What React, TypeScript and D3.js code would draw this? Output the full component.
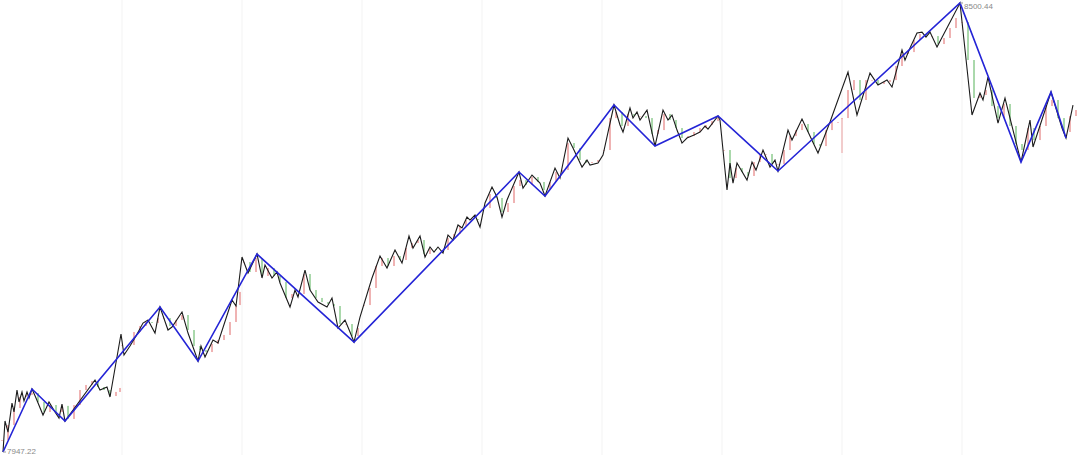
import React from "react";
import * as d3 from "d3";

// ---- data (time index in minutes, prices) ----
const dayBreaks = [122, 242, 362, 482, 602, 722, 842, 962];

const candleT = [
  2, 8, 14, 20, 26, 32, 38, 44, 50, 56, 62, 68, 74, 80, 86, 92, 98, 104, 110, 116, 120,
  122, 128, 134, 140, 146, 152, 158, 164, 170, 176, 182, 188, 194, 200, 206, 212, 218, 224, 230, 236, 240,
  244, 250, 256, 262, 268, 274, 280, 286, 292, 298, 304, 310, 316, 322, 328, 334, 340, 346, 352, 358,
  364, 370, 376, 382, 388, 394, 400, 406, 412, 418, 424, 430, 436, 442, 448, 454, 460, 466, 472, 478,
  484, 490, 496, 502, 508, 514, 520, 526, 532, 538, 544, 550, 556, 562, 568, 574, 580, 586, 592, 598,
  604, 610, 616, 622, 628, 634, 640, 646, 652, 658, 664, 670, 676, 682, 688, 694, 700, 706, 712, 718,
  724, 730, 736, 742, 748, 754, 760, 766, 772, 778, 784, 790, 796, 802, 808, 814, 820, 826, 832, 838,
  842, 848, 854, 860, 866, 872, 878, 884, 890, 896, 902, 908, 914, 920, 926, 932, 938, 944, 950, 956,
  962, 968, 974, 980, 986, 992, 998, 1004, 1010, 1016, 1022, 1028, 1034, 1040, 1046, 1052, 1058, 1064, 1070, 1076,
];
const candleClose = [
  7962.0, 7980.5, 8001.4, 8015.0, 8017.5, 8019.9, 8008.8, 7996.5, 8005.1, 7996.5, 8004.0, 7988.0, 8005.1, 8023.6, 8029.8, 8034.7, 8027.3, 8023.6, 8016.2, 8021.2, 8026.1,
  8079.1, 8079.1, 8095.1, 8102.5, 8107.4, 8106.2, 8112.3, 8112.3, 8102.5, 8109.9, 8116.0, 8097.5, 8077.8, 8072.9, 8070.4, 8080.3, 8085.2, 8091.4, 8107.4, 8128.3, 8144.4,
  8181.3, 8169.0, 8186.2, 8164.1, 8173.9, 8164.1, 8156.7, 8137.0, 8141.9, 8141.9, 8166.5, 8146.8, 8137.0, 8132.0, 8129.6, 8127.1, 8104.9, 8104.9, 8090.1, 8100.0,
  8128.3, 8149.3, 8176.4, 8186.2, 8176.4, 8188.7, 8183.8, 8198.6, 8204.7, 8208.4, 8191.2, 8197.3, 8196.1, 8196.1, 8210.9, 8215.8, 8225.7, 8233.1, 8234.3, 8233.1,
  8247.8, 8265.1, 8260.2, 8242.9, 8254.0, 8274.9, 8282.3, 8276.2, 8286.0, 8279.9, 8270.0, 8279.9, 8292.2, 8294.7, 8327.9, 8321.8, 8307.0, 8303.3, 8304.5, 8307.0,
  8319.3, 8358.7, 8366.1, 8348.9, 8363.7, 8361.2, 8361.2, 8358.7, 8339.0, 8343.9, 8363.7, 8356.3, 8346.4, 8334.1, 8336.5, 8341.5, 8346.4, 8350.1, 8355.0, 8358.7,
  8319.3, 8284.8, 8297.1, 8292.2, 8287.3, 8304.5, 8314.4, 8314.4, 8302.1, 8302.1, 8319.3, 8336.5, 8343.9, 8351.3, 8341.5, 8326.7, 8324.2, 8343.9, 8353.8, 8353.8,
  8358.7, 8393.2, 8405.5, 8380.9, 8405.5, 8405.5, 8400.6, 8403.1, 8405.5, 8422.8, 8437.6, 8440.0, 8454.8, 8462.2, 8459.7, 8459.7, 8449.9, 8457.3, 8469.6, 8481.9,
  8477.0, 8430.2, 8383.4, 8387.1, 8393.2, 8373.5, 8358.7, 8376.0, 8348.9, 8326.7, 8319.3, 8346.4, 8331.6, 8348.9, 8373.5, 8380.9, 8358.7, 8341.5, 8361.2, 8368.6,
];
const wickT = [842];
const wickLow = [8315.6];

// minor zigzag (black)
const zigT = [
  3, 5, 8, 12, 14, 17, 19, 22, 24, 27, 29, 32, 36, 43, 49, 55, 59, 62, 65, 95, 100, 107, 110,
  121, 124, 130, 136, 143, 148, 155, 160, 168, 172, 182, 188, 198, 201, 205, 213, 218, 232, 236,
  242, 248, 257, 262, 265, 272, 277, 280, 290, 295, 298, 305, 310, 318, 327, 332, 338, 345, 350, 354,
  360, 372, 380, 387, 395, 402, 409, 413, 420, 425, 430, 434, 438, 443, 448, 453, 458, 462, 467, 470, 475, 480,
  485, 492, 497, 502, 507, 519, 523, 532, 540, 545, 555, 560, 568, 573, 582, 587, 590, 598, 603,
  614, 620, 623, 630, 633, 637, 640, 647, 655, 663, 668, 672, 677, 682, 687, 694, 700, 705, 708, 718,
  720, 727, 730, 733, 737, 747, 752, 756, 763, 770, 775, 778, 788, 792, 802, 818, 830,
  848, 857, 870, 878, 887, 892, 902, 905, 910, 917, 922, 926, 930, 937, 960,
  972, 980, 983, 988, 998, 1005, 1021, 1030, 1033, 1051, 1062, 1066, 1073,
];
const zigV = [
  7947.22, 7985.4, 7971.8, 8007.6, 7996.5, 8023.6, 8008.8, 8021.1, 8010.0, 8021.1, 8013.7, 8024.8, 8013.7, 7992.8, 8008.8, 7996.5, 7989.1, 8006.3, 7985.4, 8035.9, 8023.6, 8027.3, 8015.0,
  8092.6, 8066.7, 8077.8, 8090.1, 8106.1, 8109.8, 8093.8, 8125.8, 8097.5, 8101.2, 8119.7, 8093.8, 8059.3, 8077.8, 8064.2, 8085.2, 8081.5, 8134.5, 8127.1,
  8187.4, 8167.7, 8191.1, 8161.6, 8177.6, 8161.6, 8169.0, 8155.4, 8125.8, 8146.8, 8138.2, 8171.4, 8146.8, 8132.0, 8125.8, 8136.9, 8100.0, 8109.8, 8095.0, 8082.7,
  8113.5, 8161.6, 8188.7, 8173.9, 8196.1, 8180.0, 8213.3, 8198.5, 8213.3, 8187.4, 8199.8, 8193.6, 8199.8, 8192.4, 8214.5, 8208.4, 8226.9, 8223.2, 8236.7, 8233.0, 8239.2, 8224.4,
  8254.0, 8273.7, 8261.4, 8236.7, 8257.7, 8292.2, 8272.4, 8288.5, 8278.6, 8262.6, 8297.1, 8284.8, 8334.0, 8321.7, 8298.3, 8306.9, 8300.8, 8303.2, 8313.1,
  8374.7, 8350.1, 8341.4, 8371.0, 8358.7, 8366.1, 8356.2, 8368.5, 8324.2, 8368.5, 8356.2, 8362.4, 8343.9, 8327.9, 8334.0, 8337.7, 8341.4, 8348.8, 8345.1, 8361.2,
  8356.2, 8270.0, 8303.2, 8278.6, 8303.2, 8282.3, 8304.5, 8294.6, 8319.3, 8298.3, 8306.9, 8293.4, 8343.9, 8331.6, 8357.5, 8315.6, 8353.8,
  8415.4, 8362.4, 8414.1, 8399.3, 8405.5, 8396.9, 8442.5, 8430.1, 8444.9, 8463.4, 8464.6, 8458.5, 8464.6, 8446.2, 8500.44,
  8362.4, 8389.5, 8380.9, 8409.2, 8352.5, 8383.3, 8304.5, 8356.2, 8323.0, 8390.7, 8346.4, 8334.0, 8374.7,
];

// major zigzag (blue)
const trendT = [3, 32, 65, 160, 198, 257, 354, 519, 545, 614, 655, 718, 778, 960, 1021, 1051, 1066];
const trendV = [
  7947.22, 8024.8, 7985.4, 8125.8, 8059.3, 8191.1, 8082.7, 8292.2, 8262.6, 8374.7, 8324.2, 8361.2, 8293.4, 8500.44, 8304.5, 8390.7, 8334.0,
];

const minLabel = "7947.22";
const maxLabel = "8500.44";

const W = 1080;
const H = 455;

export default function App() {
  const x = d3.scaleLinear().domain([0, 1080]).range([0, W]);
  const y = d3.scaleLinear().domain([7947.22, 8500.44]).range([452, 3]);

  const dayStarts = new Set([122, 244, 364, 484, 604, 724, 842, 962]);
  const candles = candleT.map((t, i) => {
    const c = candleClose[i];
    const o = i === 0 || dayStarts.has(t) ? c : candleClose[i - 1];
    const wi = wickT.indexOf(t);
    const lo = wi >= 0 ? wickLow[wi] : Math.min(o, c);
    return { t, o, c, hi: Math.max(o, c), lo };
  });

  const line = d3
    .line<[number, number]>()
    .x((d) => x(d[0]))
    .y((d) => y(d[1]));

  const zig = zigT.map((t, i) => [t, zigV[i]] as [number, number]);
  const trend = trendT.map((t, i) => [t, trendV[i]] as [number, number]);

  const minIdx = d3.minIndex(trendV);
  const maxIdx = d3.maxIndex(trendV);

  return (
    <svg
      width={W}
      height={H}
      style={{ position: "absolute", left: 0, top: 0, background: "#fff" }}
      fontFamily="'Liberation Sans', Arial, sans-serif"
    >
      <rect x={0} y={0} width={W} height={H} fill="#fff" />
      {dayBreaks.map((t) => (
        <line key={t} x1={x(t)} x2={x(t)} y1={0} y2={H} stroke="#f3f3f3" strokeWidth={1} />
      ))}
      <g>
        {candles.map((d, i) => {
          const up = d.c >= d.o;
          const col = up ? "#e88a8a" : "#7cc47f";
          const top = y(d.hi);
          return (
            <g key={i} opacity={0.8}>
              <line x1={x(d.t)} x2={x(d.t)} y1={top} y2={y(d.lo)} stroke={col} strokeWidth={1} />
              <rect
                x={x(d.t) - 0.6}
                y={top}
                width={1.2}
                height={Math.max(1, y(Math.min(d.o, d.c)) - top)}
                fill={col}
              />
            </g>
          );
        })}
      </g>
      <path d={line(zig) ?? ""} fill="none" stroke="#1b1b1b" strokeWidth={1.1} strokeLinejoin="miter" />
      <path d={line(trend) ?? ""} fill="none" stroke="#2424d6" strokeWidth={1.6} strokeLinejoin="miter" />
      <line
        x1={x(trendT[minIdx])}
        x2={x(trendT[minIdx]) + 3}
        y1={y(trendV[minIdx])}
        y2={y(trendV[minIdx])}
        stroke="#999"
      />
      <text x={x(trendT[minIdx]) + 4} y={y(trendV[minIdx]) + 1.5} fontSize={8} fill="#8a8a8a">
        {minLabel}
      </text>
      <line
        x1={x(trendT[maxIdx])}
        x2={x(trendT[maxIdx]) + 3}
        y1={y(trendV[maxIdx])}
        y2={y(trendV[maxIdx])}
        stroke="#999"
      />
      <text x={x(trendT[maxIdx]) + 4} y={y(trendV[maxIdx]) + 6} fontSize={8} fill="#8a8a8a">
        {maxLabel}
      </text>
    </svg>
  );
}
